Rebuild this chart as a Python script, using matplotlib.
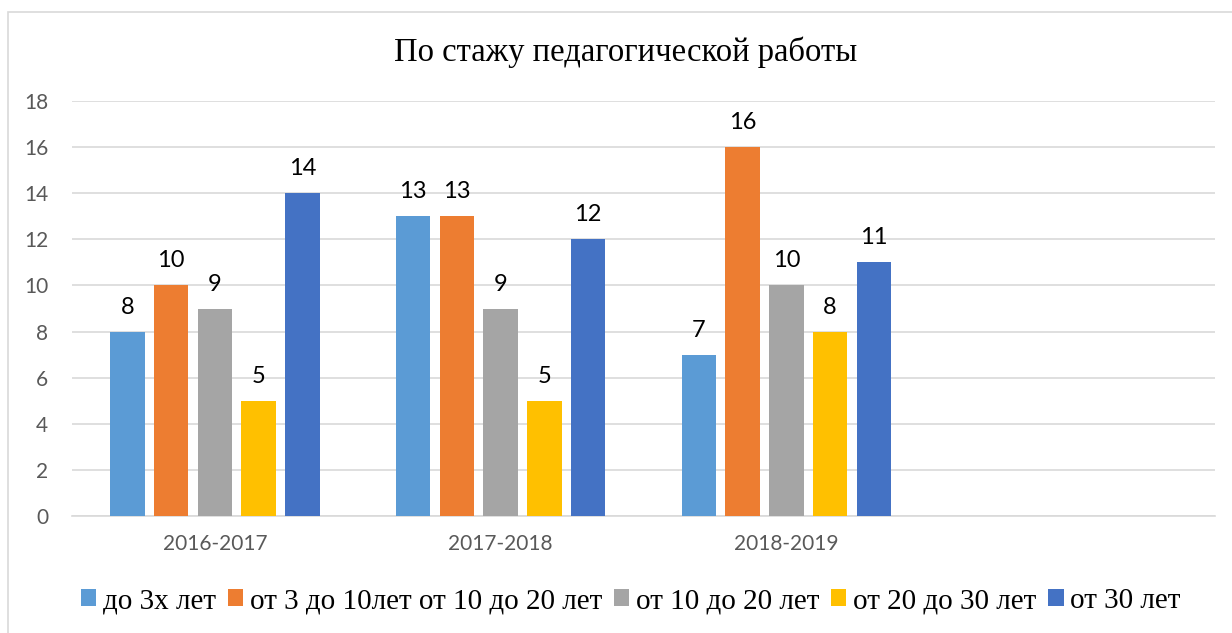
import matplotlib
matplotlib.use("Agg")
import matplotlib.pyplot as plt
import numpy as np
from matplotlib.patches import Rectangle

categories = ["2016-2017", "2017-2018", "2018-2019", ""]
series_names = ["до 3х лет", "от 3 до 10лет от 10 до 20 лет", "от 10 до 20 лет",
                "от 20 до 30 лет", "от 30 лет"]
values = [
    [8, 13, 7],
    [10, 13, 16],
    [9, 9, 10],
    [5, 5, 8],
    [14, 12, 11],
]
colors = ["#5B9BD5", "#ED7D31", "#A5A5A5", "#FFC000", "#4472C4"]
title = "По стажу педагогической работы"
yticks = [0, 2, 4, 6, 8, 10, 12, 14, 16, 18]

fig = plt.figure(figsize=(12.32, 6.33), dpi=100)
ax = fig.add_axes([72/1232, 1-516/633, (1215-72)/1232, (516-101)/633])

fig.patches.append(Rectangle((8/1232, -0.1), 1.2, 1.1 - 12/633, transform=fig.transFigure,
                             fill=False, edgecolor="#D9D9D9", linewidth=1.2))

x = np.arange(len(categories))
bw = 0.121
step = 0.153
for i, (name, vals, c) in enumerate(zip(series_names, values, colors)):
    pos = x[:len(vals)] + (i - 2) * step
    bars = ax.bar(pos, vals, width=bw, color=c, label=name, zorder=3)
    for b, v in zip(bars, vals):
        ax.text(b.get_x() + b.get_width()/2, v + 0.78, str(v), ha="center", va="baseline",
                fontsize=17, family="Lato", color="black")

ax.set_xlim(-0.5, len(categories) - 0.5)
ax.set_ylim(0, 18)
ax.set_yticks(yticks)
ax.set_xticks(x)
ax.set_xticklabels(categories)
ax.yaxis.grid(True, color="#D9D9D9", linewidth=1.2, zorder=0)
ax.set_axisbelow(True)
for s in ["top", "right", "left"]:
    ax.spines[s].set_visible(False)
ax.spines["bottom"].set_color("#D9D9D9")
ax.spines["bottom"].set_linewidth(1.2)
ax.tick_params(axis="both", length=0, labelsize=15, colors="#595959")
ax.tick_params(axis="x", pad=13)
ax.tick_params(axis="y", pad=17)
for lab in ax.get_xticklabels() + ax.get_yticklabels():
    lab.set_family("Lato")

fig.text(0.508, 1 - 52/633, title, ha="center", va="center", fontsize=23.5,
         family="Liberation Serif", color="black")

fig.legend(loc="center", bbox_to_anchor=(0.512, 1 - 601/633), ncol=5, frameon=False,
           prop={"family": "Liberation Serif", "size": 21}, handlelength=0.52,
           handleheight=0.52, handletextpad=0.22, columnspacing=0.42, borderpad=0.2)

fig.savefig("out.png", dpi=100)
